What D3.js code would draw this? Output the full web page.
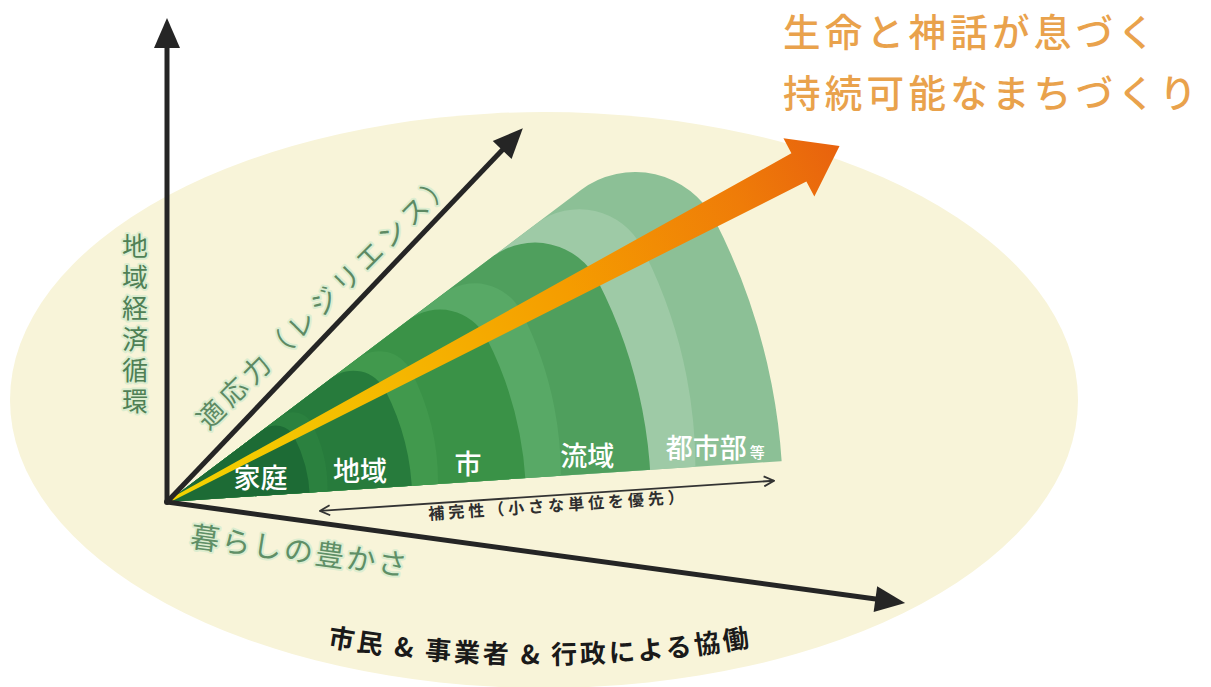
<!DOCTYPE html>
<html>
<head>
<meta charset="utf-8">
<script src="https://cdn.jsdelivr.net/npm/d3@7"></script>
<style>
  body { margin: 0; background: #fff; }
  svg { display: block; font-family: 'Noto Sans CJK JP', 'Noto Sans', sans-serif; }
</style>
</head>
<body>
<script>
// layers of the fan (reach in % of the outermost one)
var layerNames = ['家庭', '地域', '市', '流域', '都市部'];
var layerReach = [23.2, 39.8, 58.3, 78.6, 100];
var layerColors = ['#1d6b35', '#277b3c', '#3a9247', '#4f9f5d', '#8cc096'];
var bandColors = [null, '#2b813f', '#41994d', '#58a966', '#9ecaa6'];

var titleLines = ['生命と神話が息づく', '持続可能なまちづくり'];
var sideLabel = '地域経済循環';
var diagLabel = '適応力（レジリエンス）';
var lowLabel = '暮らしの豊かさ';
var rangeLabel = '補完性（小さな単位を優先）';
var bottomLabel = '市民 & 事業者 & 行政による協働';

var w = 1211;
var h = 687;
var ox = 167, oy = 502;
var topAngle = 37, bottomAngle = 3.8;
var rad = Math.PI / 180;

function pt(r, a){
  return [ox + r * Math.cos(a * rad), oy - r * Math.sin(a * rad)];
}
function shift(p, a, d){
  // move p to the left side of direction a by d
  return [p[0] - d * Math.sin(a * rad), p[1] - d * Math.cos(a * rad)];
}
function tr(x, y){ return 'translate(' + x + ',' + y + ')'; }

var svg = d3.select('body').append('svg')
            .attr('width', w)
            .attr('height', h);
var defs = svg.append('defs');

svg.append('ellipse')
   .attr('cx', 544).attr('cy', 400)
   .attr('rx', 534).attr('ry', 288)
   .attr('fill', '#f8f4d9');

var rScale = d3.scaleLinear().domain([0, 100]).range([0, 616]);

var fanArc = d3.arc()
               .innerRadius(0)
               .outerRadius(function(d){ return rScale(d); })
               .cornerRadius(function(d){ return rScale(d) * 0.146; })
               .startAngle((90 - topAngle) * rad)
               .endAngle(105 * rad);

defs.append('clipPath').attr('id', 'fanClip')
    .append('polygon')
    .attr('points', [[ox, oy], pt(1500, bottomAngle), pt(1500, 80)].map(function(p){ return p.join(','); }).join(' '));

layerReach.forEach(function(d, i){
  defs.append('clipPath').attr('id', 'layer' + i)
      .append('path')
      .attr('d', fanArc(d))
      .attr('transform', tr(ox, oy));
});

var fan = svg.append('g').attr('clip-path', 'url(#fanClip)');
d3.range(layerReach.length - 1, -1, -1).forEach(function(i){
  fan.append('path')
     .attr('d', fanArc(layerReach[i]))
     .attr('transform', tr(ox, oy))
     .attr('fill', layerColors[i]);
  if (i > 0) {
    var s = rScale(layerReach[i]) * 0.09;
    fan.append('g')
       .attr('clip-path', 'url(#layer' + i + ')')
       .append('path')
       .attr('d', fanArc(layerReach[i - 1]))
       .attr('transform', tr(ox + s * Math.cos(topAngle * rad), oy - s * Math.sin(topAngle * rad)))
       .attr('fill', bandColors[i]);
  }
});

// layer names
var labels = svg.append('g')
   .attr('fill', '#fff')
   .attr('font-size', 27)
   .attr('font-weight', 500)
   .attr('text-anchor', 'middle');
layerNames.forEach(function(name, i){
  var outer = rScale(layerReach[i]);
  var inner = i > 0 ? rScale(layerReach[i - 1]) : 0;
  var r = i > 0 ? (inner + outer) / 2 : outer * 0.66;
  var p = shift(pt(r, bottomAngle), bottomAngle, 8);
  var t = labels.append('text').attr('x', p[0]).attr('y', p[1]).text(name);
  if (i === layerNames.length - 1) {
    t.append('tspan').attr('font-size', 15).attr('dx', 3).text('等');
  }
});

// orange arrow
var arrowAngle = 27.9, arrowLen = 761;
var grad = defs.append('linearGradient').attr('id', 'arrowGrad')
               .attr('gradientUnits', 'userSpaceOnUse')
               .attr('x1', 0).attr('y1', 0).attr('x2', arrowLen).attr('y2', 0);
[[0, '#f3d400'], [0.35, '#f5b600'], [0.6, '#f59c00'], [0.85, '#ef7c08'], [1, '#e8620e']].forEach(function(s){
  grad.append('stop').attr('offset', s[0]).attr('stop-color', s[1]);
});
var arrowPts = [[0, -1.5], [arrowLen - 46, -16], [arrowLen - 46, -33], [arrowLen, 0],
                [arrowLen - 46, 33], [arrowLen - 46, 16], [0, 1.5]];
svg.append('polygon')
   .attr('points', arrowPts.map(function(p){ return p.join(','); }).join(' '))
   .attr('transform', tr(ox, oy) + ' rotate(' + (-arrowAngle) + ')')
   .attr('fill', 'url(#arrowGrad)');

// axes
var axes = [{a: 90, len: 484}, {a: 46.4, len: 516}, {a: -7.8, len: 745}];
axes.forEach(function(ax){
  var end = pt(ax.len - 26, ax.a);
  svg.append('line')
     .attr('x1', ox).attr('y1', oy)
     .attr('x2', end[0]).attr('y2', end[1])
     .attr('stroke', '#252525')
     .attr('stroke-width', 5);
  var base = pt(ax.len - 30, ax.a);
  var head = [pt(ax.len, ax.a), shift(base, ax.a, 13), shift(base, ax.a, -13)];
  svg.append('polygon')
     .attr('points', head.map(function(p){ return p.join(','); }).join(' '))
     .attr('fill', '#252525');
});
svg.append('circle').attr('cx', ox).attr('cy', oy).attr('r', 3).attr('fill', '#252525');

// double arrow under the fan
defs.append('marker').attr('id', 'tip')
    .attr('viewBox', '0 0 12 12').attr('refX', 11).attr('refY', 6)
    .attr('markerWidth', 12).attr('markerHeight', 12)
    .attr('markerUnits', 'userSpaceOnUse')
    .attr('orient', 'auto-start-reverse')
    .append('path').attr('d', 'M1,1 L11,6 L1,11')
    .attr('fill', 'none').attr('stroke', '#333').attr('stroke-width', 1.8);
var a1 = shift(pt(152, bottomAngle), bottomAngle, -19);
var a2 = shift(pt(607, bottomAngle), bottomAngle, -19);
svg.append('line')
   .attr('x1', a1[0]).attr('y1', a1[1]).attr('x2', a2[0]).attr('y2', a2[1])
   .attr('stroke', '#333').attr('stroke-width', 1.8)
   .attr('marker-start', 'url(#tip)').attr('marker-end', 'url(#tip)');
var rl = shift(pt(390, bottomAngle), bottomAngle, -35);
svg.append('text')
   .attr('transform', tr(rl[0], rl[1]) + ' rotate(' + (-bottomAngle) + ')')
   .attr('text-anchor', 'middle')
   .attr('font-size', 16).attr('font-weight', 700)
   .attr('letter-spacing', 4)
   .attr('fill', '#2e2e2e')
   .text(rangeLabel);

// green labels
function halo(sel){
  return sel.attr('stroke', '#dcedd0').attr('stroke-width', 4)
            .attr('paint-order', 'stroke').attr('stroke-linejoin', 'round');
}
halo(svg.append('text'))
   .attr('x', 135).attr('y', 233)
   .style('writing-mode', 'vertical-rl')
   .attr('font-size', 26)
   .attr('letter-spacing', 5)
   .attr('fill', '#4f8055')
   .text(sideLabel);

var dl = shift(pt(80, 46.4), 46.4, 19);
halo(svg.append('text'))
   .attr('transform', tr(dl[0], dl[1]) + ' rotate(-45)')
   .attr('font-size', 27)
   .attr('letter-spacing', 5)
   .attr('fill', '#5d8a63')
   .text(diagLabel);

var ll = shift(pt(28, -7.8), -7.8, -41);
halo(svg.append('text'))
   .attr('transform', tr(ll[0], ll[1]) + ' rotate(7.8)')
   .attr('font-size', 29)
   .attr('letter-spacing', 2.5)
   .attr('fill', '#5f8f66')
   .text(lowLabel);

// bottom caption along a curve
defs.append('path').attr('id', 'bottomCurve')
    .attr('d', 'M40,474 A500,190 0 0 0 1040,474');
svg.append('text')
   .attr('font-size', 26).attr('font-weight', 700)
   .attr('letter-spacing', 3)
   .attr('fill', '#1a1a1a')
   .append('textPath')
   .attr('href', '#bottomCurve')
   .attr('startOffset', '50%')
   .attr('text-anchor', 'middle')
   .text(bottomLabel);

// title
svg.append('g')
   .attr('fill', '#e9a24c')
   .attr('font-size', 37.5)
   .attr('font-weight', 500)
   .attr('letter-spacing', 4.3)
   .selectAll('text')
   .data(titleLines)
   .enter()
   .append('text')
   .attr('x', 783)
   .attr('y', function(d, i){ return 46 + i * 61; })
   .text(function(d){ return d; });
</script>
</body>
</html>
